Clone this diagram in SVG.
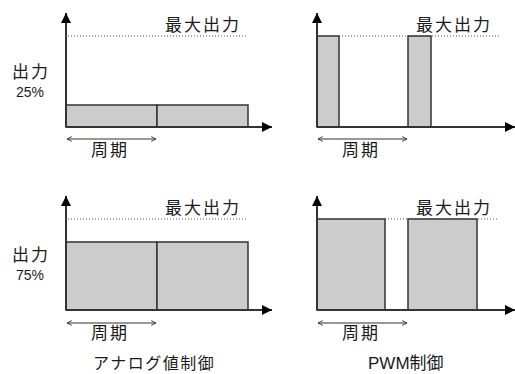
<svg xmlns="http://www.w3.org/2000/svg" width="515" height="374" viewBox="0 0 515 374">
<style>
.ax{stroke:#333;stroke-width:2;fill:none}
.dot{stroke:#555;stroke-width:1;stroke-dasharray:1 2;fill:none}
.bar{fill:#cccccc;stroke:#333;stroke-width:1.5}
.per{stroke:#333;stroke-width:1.2;fill:none}
.jp{font-family:"Noto Sans CJK JP","Noto Sans",sans-serif;fill:#1a1a1a}
.lbl{font-size:17px;letter-spacing:2px}
.pc{font-family:"Liberation Sans",Arial,sans-serif;font-size:14px;fill:#1a1a1a}
</style>
<defs>
<marker id="ah" viewBox="0 0 10 10" refX="10" refY="5" markerWidth="17" markerHeight="10" markerUnits="userSpaceOnUse" orient="auto"><path d="M0,0 L10,5 L0,10 Z" fill="#000"/></marker>
<marker id="oh" viewBox="0 0 10 10" refX="9" refY="5" markerWidth="6" markerHeight="8" markerUnits="userSpaceOnUse" orient="auto-start-reverse"><path d="M1,1 L9,5 L1,9" fill="none" stroke="#333" stroke-width="1.5"/></marker>
</defs>

<g id="analog25">
<rect class="bar" x="66" y="105" width="91" height="22"/>
<rect class="bar" x="157" y="105" width="91" height="22"/>
<line class="dot" x1="68" y1="36" x2="248" y2="36"/>
<text class="jp lbl" x="165" y="31">最大出力</text>
<text class="jp lbl" x="12" y="78">出力</text>
<text class="pc" x="16" y="97">25%</text>
<text class="jp lbl" x="91" y="156" letter-spacing="3">周期</text>
</g>

<g id="analog75">
<rect class="bar" x="66" y="242" width="91" height="68"/>
<rect class="bar" x="157" y="242" width="91" height="68"/>
<line class="dot" x1="68" y1="219" x2="248" y2="219"/>
<text class="jp lbl" x="165" y="214">最大出力</text>
<text class="jp lbl" x="12" y="261">出力</text>
<text class="pc" x="16" y="280">75%</text>
<text class="jp lbl" x="91" y="339" letter-spacing="3">周期</text>
<text class="jp" x="93" y="369" font-size="16" letter-spacing="1.5">アナログ値制御</text>
</g>

<g id="pwm25">
<line class="dot" x1="339" y1="36" x2="499" y2="36"/>
<rect class="bar" x="317" y="36" width="22" height="91"/>
<rect class="bar" x="408" y="36" width="23" height="91"/>
<text class="jp lbl" x="416" y="31">最大出力</text>
<text class="jp lbl" x="342" y="156" letter-spacing="3">周期</text>
</g>

<g id="pwm75">
<line class="dot" x1="385" y1="219" x2="499" y2="219"/>
<rect class="bar" x="317" y="219" width="68" height="91"/>
<rect class="bar" x="408" y="219" width="69" height="91"/>
<text class="jp lbl" x="416" y="214">最大出力</text>
<text class="jp lbl" x="342" y="339" letter-spacing="3">周期</text>
<text x="368" y="369" font-family="Liberation Sans, Noto Sans CJK JP, sans-serif" font-size="17" fill="#1a1a1a">PWM<tspan font-family="Noto Sans CJK JP, sans-serif">制御</tspan></text>
</g>

<g id="connectors">
<line class="ax" x1="66" y1="127" x2="66" y2="13" marker-end="url(#ah)"/>
<line class="ax" x1="66" y1="127" x2="272" y2="127" marker-end="url(#ah)"/>
<line class="ax" x1="66" y1="310" x2="66" y2="196" marker-end="url(#ah)"/>
<line class="ax" x1="66" y1="310" x2="272" y2="310" marker-end="url(#ah)"/>
<line class="ax" x1="317" y1="127" x2="317" y2="13" marker-end="url(#ah)"/>
<line class="ax" x1="317" y1="127" x2="515" y2="127" marker-end="url(#ah)"/>
<line class="ax" x1="317" y1="310" x2="317" y2="196" marker-end="url(#ah)"/>
<line class="ax" x1="317" y1="310" x2="515" y2="310" marker-end="url(#ah)"/>
<line class="per" x1="67" y1="139" x2="156" y2="139" marker-start="url(#oh)" marker-end="url(#oh)"/>
<line class="per" x1="67" y1="323" x2="156" y2="323" marker-start="url(#oh)" marker-end="url(#oh)"/>
<line class="per" x1="318" y1="139" x2="407" y2="139" marker-start="url(#oh)" marker-end="url(#oh)"/>
<line class="per" x1="318" y1="323" x2="407" y2="323" marker-start="url(#oh)" marker-end="url(#oh)"/>
</g>
</svg>
